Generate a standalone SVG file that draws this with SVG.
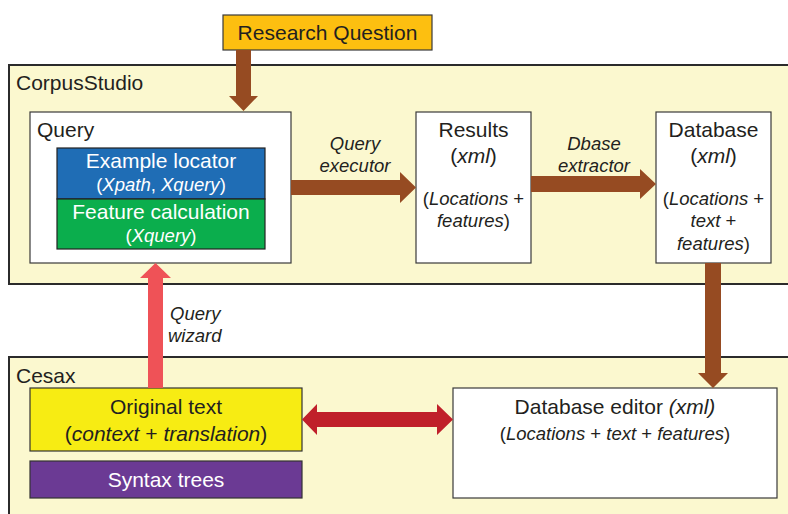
<svg xmlns="http://www.w3.org/2000/svg" width="788" height="514" viewBox="0 0 788 514">
<style>
text{font-family:"Liberation Sans",Arial,sans-serif;fill:#231F20}
.t{font-size:21px}
.s{font-size:18.5px}
.c{text-anchor:middle}
.i{font-style:italic}
.w{fill:#fff}
.panel{fill:#FBF8CF;stroke:#2b2b2b;stroke-width:2}
.box{fill:#fff;stroke:#3a3a3a;stroke-width:1.2}
</style>
<rect width="788" height="514" fill="#fff"/>
<g id="corpusstudio">
<rect class="panel" x="9" y="65" width="790" height="219"/>
<text class="t" x="16" y="90">CorpusStudio</text>
</g>
<g id="cesax">
<rect class="panel" x="9" y="357" width="790" height="170"/>
<text class="t" x="16" y="383">Cesax</text>
</g>
<g id="research-question">
<rect x="223" y="15" width="209" height="35" fill="#FDBF10" stroke="#3a3a3a" stroke-width="1.2"/>
<text class="t c" x="327.5" y="40">Research Question</text>
</g>
<g id="query">
<rect class="box" x="30" y="112" width="261" height="151"/>
<text class="t" x="37" y="137">Query</text>
</g>
<g id="example-locator">
<rect x="57" y="148" width="208" height="51" fill="#1F6DB5" stroke="#222" stroke-width="1.2"/>
<text class="t c w" x="161" y="168">Example locator</text>
<text class="s c w" x="161" y="191">(<tspan class="i w">Xpath</tspan>, <tspan class="i w">Xquery</tspan>)</text>
</g>
<g id="feature-calculation">
<rect x="57" y="199" width="208" height="50" fill="#0BAE4D" stroke="#222" stroke-width="1.2"/>
<text class="t c w" x="161" y="219">Feature calculation</text>
<text class="s c w" x="161" y="242">(<tspan class="i w">Xquery</tspan>)</text>
</g>
<g id="results">
<rect class="box" x="416" y="112" width="115" height="151"/>
<text class="t c" x="473.5" y="137">Results</text>
<text class="t c" x="473.5" y="163">(<tspan class="i">xml</tspan>)</text>
<text class="s c" x="473.5" y="205">(<tspan class="i">Locations</tspan> +</text>
<text class="s c" x="473.5" y="227"><tspan class="i">features</tspan>)</text>
</g>
<g id="database">
<rect class="box" x="656" y="112" width="115" height="151"/>
<text class="t c" x="713.5" y="137">Database</text>
<text class="t c" x="713.5" y="163">(<tspan class="i">xml</tspan>)</text>
<text class="s c" x="713.5" y="205">(<tspan class="i">Locations</tspan> +</text>
<text class="s c" x="713.5" y="227"><tspan class="i">text</tspan> +</text>
<text class="s c" x="713.5" y="250"><tspan class="i">features</tspan>)</text>
</g>
<g id="original-text">
<rect x="30" y="388" width="272" height="63" fill="#F7EC13" stroke="#333" stroke-width="1.2"/>
<text class="t c" x="166" y="414">Original text</text>
<text class="t c" x="166" y="441">(<tspan class="i">context</tspan> + <tspan class="i">translation</tspan>)</text>
</g>
<g id="syntax-trees">
<rect x="30" y="461" width="272" height="37" fill="#6B3A94" stroke="#333" stroke-width="1.2"/>
<text class="t c w" x="166" y="487">Syntax trees</text>
</g>
<g id="database-editor">
<rect class="box" x="453" y="388" width="324" height="110"/>
<text class="t c" x="615" y="414">Database editor <tspan class="i">(xml)</tspan></text>
<text class="s c" x="615" y="440">(<tspan class="i">Locations</tspan> + <tspan class="i">text</tspan> + <tspan class="i">features</tspan>)</text>
</g>
<g id="connectors">
<polygon fill="#964B22" points="236,50 251,50 251,96 258,96 243.5,111 229,96 236,96"/>
<polygon fill="#964B22" points="291,180 400,180 400,172 416,187.5 400,203 400,195 291,195"/>
<polygon fill="#964B22" points="531,176 640,176 640,169 656,184 640,199 640,192 531,192"/>
<polygon fill="#964B22" points="705,263 721,263 721,373 728,373 713,388 698,373 705,373"/>
<polygon fill="#EF5257" points="148,388 163,388 163,278 171,278 155.5,263 140,278 148,278"/>
<polygon fill="#C0202A" points="302,419.5 317,404 317,412 437,412 437,404 453,419.5 437,435 437,427 317,427 317,435"/>
<text class="s c i" x="355" y="150">Query</text>
<text class="s c i" x="355" y="172">executor</text>
<text class="s c i" x="594" y="150">Dbase</text>
<text class="s c i" x="594" y="172">extractor</text>
<text class="s i" x="170" y="320">Query</text>
<text class="s i" x="168" y="342">wizard</text>
</g>
</svg>
